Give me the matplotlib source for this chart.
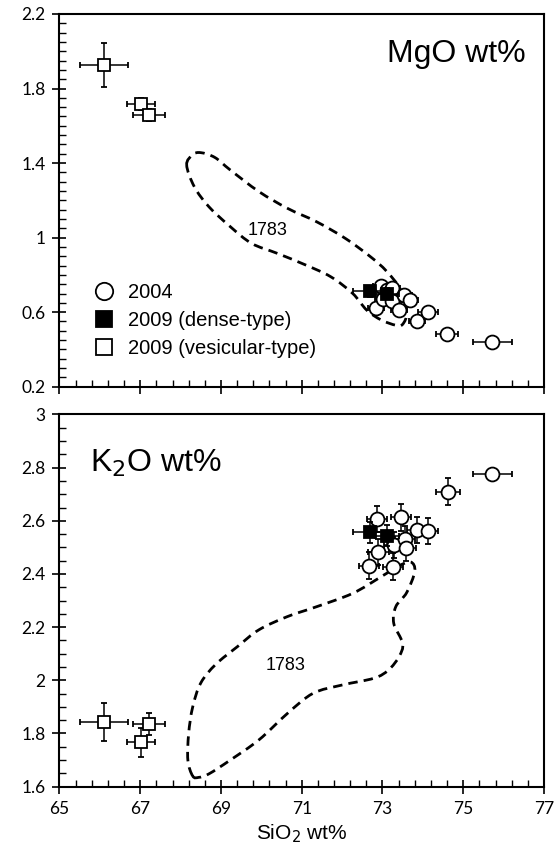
import matplotlib
matplotlib.use('Agg')
import matplotlib.pyplot as plt
from matplotlib.path import Path
from matplotlib.patches import PathPatch
from matplotlib.lines import Line2D
from matplotlib.ticker import MultipleLocator, FuncFormatter

plt.rcParams['font.family'] = ['Liberation Sans', 'DejaVu Sans']

# 2004 samples
sio2_2004_mgo = [72.85, 72.97, 73.01, 73.12, 73.24, 73.24, 73.42, 73.53, 73.68, 73.86, 74.13, 74.60, 75.72]
mgo_2004 = [0.625, 0.74, 0.67, 0.72, 0.73, 0.66, 0.61, 0.69, 0.665, 0.55, 0.60, 0.483, 0.44]
sio2_err_2004_mgo = [0.2, 0.2, 0.2, 0.2, 0.2, 0.2, 0.2, 0.2, 0.2, 0.2, 0.25, 0.27, 0.48]
mgo_err_2004 = [0.015] * 13

sio2_2004_k2o = [72.66, 72.86, 72.90, 73.26, 73.28, 73.46, 73.55, 73.59, 73.86, 74.13, 74.62, 75.72]
k2o_2004 = [2.431, 2.607, 2.482, 2.428, 2.509, 2.613, 2.532, 2.497, 2.565, 2.562, 2.71, 2.775]
sio2_err_2004_k2o = [0.25, 0.25, 0.25, 0.25, 0.25, 0.25, 0.25, 0.25, 0.25, 0.25, 0.3, 0.48]
k2o_err_2004 = [0.05, 0.05, 0.05, 0.05, 0.05, 0.05, 0.05, 0.05, 0.05, 0.05, 0.05, 0.02]

# 2009 dense-type
sio2_dense = [72.70, 73.11]
sio2_err_dense = [0.42, 0.3]
mgo_dense = [0.712, 0.70]
mgo_err_dense = [0.03, 0.03]
k2o_dense = [2.557, 2.544]
k2o_err_dense = [0.04, 0.04]

# 2009 vesicular-type
sio2_ves = [66.11, 67.02, 67.22]
sio2_err_ves = [0.59, 0.35, 0.39]
mgo_ves = [1.926, 1.717, 1.658]
mgo_err_ves = [0.12, 0.03, 0.03]
k2o_ves = [1.842, 1.767, 1.836]
k2o_err_ves = [0.072, 0.055, 0.041]

# 1783 fields (outline vertices, SiO2 / oxide)
field_mgo_x = [68.15, 68.3, 68.5, 68.85, 69.23, 69.94, 70.65, 71.37, 72.08, 72.70, 73.1, 73.45, 73.6, 73.5,
               73.33, 72.97, 72.61, 72.26, 71.72, 71.10, 70.39, 69.76, 69.23, 68.70, 68.34]
field_mgo_y = [1.39, 1.445, 1.456, 1.43, 1.363, 1.247, 1.157, 1.085, 0.996, 0.898, 0.82, 0.72, 0.6, 0.535,
               0.53, 0.558, 0.611, 0.701, 0.79, 0.853, 0.916, 0.969, 1.059, 1.166, 1.273]
field_k2o_x = [68.30, 68.18, 68.20, 68.30, 68.5, 68.87, 69.41, 69.94, 70.65, 71.37, 72.26, 72.97, 73.4, 73.7,
               73.8, 73.6, 73.33, 73.28, 73.50, 73.41, 73.15, 72.79, 71.99, 71.28, 70.65, 69.94, 69.23, 68.70, 68.45]
field_k2o_y = [1.64, 1.70, 1.80, 1.90, 1.99, 2.06, 2.127, 2.19, 2.24, 2.277, 2.327, 2.39, 2.43, 2.445,
               2.41, 2.33, 2.277, 2.214, 2.139, 2.089, 2.039, 2.008, 1.982, 1.951, 1.876, 1.776, 1.70, 1.648, 1.635]


def closed_curve(xs, ys):
    # closed Catmull-Rom outline as cubic Bezier path
    n = len(xs)
    p = list(zip(xs, ys))
    verts = [p[0]]; codes = [Path.MOVETO]
    for i in range(n):
        p0, p1, p2, p3 = p[i - 1], p[i], p[(i + 1) % n], p[(i + 2) % n]
        c1 = (p1[0] + (p2[0] - p0[0]) / 6, p1[1] + (p2[1] - p0[1]) / 6)
        c2 = (p2[0] - (p3[0] - p1[0]) / 6, p2[1] - (p3[1] - p1[1]) / 6)
        verts += [c1, c2, p2]; codes += [Path.CURVE4] * 3
    return Path(verts, codes)


def pts(ax, x, y, xe, ye, marker, fc, z, ms):
    ax.errorbar(x, y, xerr=xe, yerr=ye, fmt=marker, ms=ms, mfc=fc, mec='black', mew=1.3,
                ecolor='black', elinewidth=1.1, capsize=2.5, capthick=1.2, zorder=z)


def style(ax, ylo, yhi, ymaj):
    ax.set_xlim(65, 77); ax.set_ylim(ylo, yhi)
    ax.xaxis.set_major_locator(MultipleLocator(2, offset=1))
    ax.xaxis.set_minor_locator(MultipleLocator(0.4, offset=0.2))
    ax.yaxis.set_major_locator(MultipleLocator(ymaj, offset=ylo % ymaj))
    ax.yaxis.set_minor_locator(MultipleLocator(0.05))
    ax.tick_params(which='major', direction='inout', length=10, width=1.2, labelsize=12.5, pad=5)
    ax.tick_params(which='minor', direction='in', length=5, width=1)
    for s in ax.spines.values():
        s.set_linewidth(1.5)
    for t in ax.get_xticklabels() + ax.get_yticklabels():
        t.set_fontfamily('Lato')
    ax.yaxis.set_major_formatter(FuncFormatter(lambda v, _: f'{round(v, 2):g}'))


fig = plt.figure(figsize=(5.59, 8.64), dpi=100)
ax1 = fig.add_axes([0.1064, 0.5524, 0.8667, 0.4314])
ax2 = fig.add_axes([0.1064, 0.0895, 0.8667, 0.4308])

# MgO panel
ax1.add_patch(PathPatch(closed_curve(field_mgo_x, field_mgo_y), fill=False, ec='black', lw=2,
                        ls=(0, (3.4, 2.2)), zorder=1))
ax1.text(70.15, 1.04, '1783', fontsize=13, ha='center', va='center')
pts(ax1, sio2_2004_mgo, mgo_2004, sio2_err_2004_mgo, mgo_err_2004, 'o', 'white', 2, 10)
pts(ax1, sio2_dense, mgo_dense, sio2_err_dense, mgo_err_dense, 's', 'black', 3, 9)
pts(ax1, sio2_ves, mgo_ves, sio2_err_ves, mgo_err_ves, 's', 'white', 3, 9)
ax1.text(0.963, 0.893, 'MgO wt%', transform=ax1.transAxes, fontsize=23, ha='right', va='center')
style(ax1, 0.2, 2.2, 0.4)
ax1.tick_params(axis='x', labelbottom=False)
handles = [Line2D([], [], ls='none', marker='o', ms=12.5, mfc='white', mec='black', mew=1.3),
           Line2D([], [], ls='none', marker='s', ms=11.5, mfc='black', mec='black', mew=1.3),
           Line2D([], [], ls='none', marker='s', ms=11.5, mfc='white', mec='black', mew=1.3)]
ax1.legend(handles, ['2004', '2009 (dense-type)', '2009 (vesicular-type)'], loc='lower left',
           bbox_to_anchor=(0.055, 0.055), frameon=False, fontsize=14.5, handletextpad=0.7,
           labelspacing=0.45, handlelength=1.0, borderaxespad=0)

# K2O panel
ax2.add_patch(PathPatch(closed_curve(field_k2o_x, field_k2o_y), fill=False, ec='black', lw=2,
                        ls=(0, (3.4, 2.2)), zorder=1))
ax2.text(70.6, 2.054, '1783', fontsize=13, ha='center', va='center')
pts(ax2, sio2_2004_k2o, k2o_2004, sio2_err_2004_k2o, k2o_err_2004, 'o', 'white', 2, 10)
pts(ax2, sio2_dense, k2o_dense, sio2_err_dense, k2o_err_dense, 's', 'black', 3, 9)
pts(ax2, sio2_ves, k2o_ves, sio2_err_ves, k2o_err_ves, 's', 'white', 3, 9)
ax2.text(0.063, 0.87, 'K$_2$O wt%', transform=ax2.transAxes, fontsize=23, ha='left', va='center')
style(ax2, 1.6, 3.0, 0.2)
ax2.set_xlabel('SiO$_2$ wt%', fontsize=15, labelpad=4)

fig.savefig('out.png', dpi=100, facecolor='white')
